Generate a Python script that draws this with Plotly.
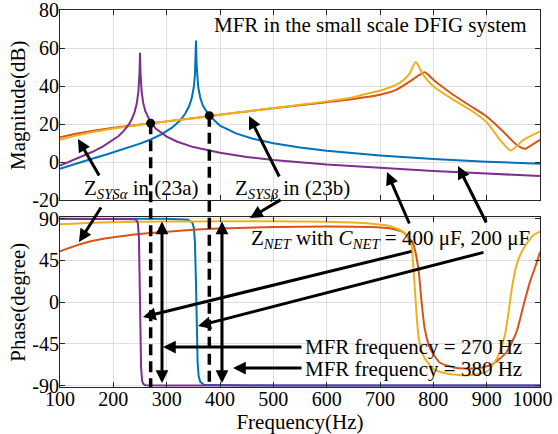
import plotly.graph_objects as go

# ---------------- data ----------------
# Magnitude (dB)
blue_f = [100, 130, 160, 190, 220, 250, 270, 290, 310, 325, 335, 342, 347, 351, 353, 354, 355, 356, 357, 359, 363, 368, 380, 400, 430, 460, 500, 550, 600, 700, 800, 900, 1000]
blue_db = [-3.4, -0.6, 1.9, 4.4, 6.9, 9.8, 12.0, 14.7, 18.2, 21.9, 25.6, 29.4, 33.7, 39.8, 45.8, 52.0, 64.0, 52.0, 45.9, 39.9, 33.9, 29.7, 24.5, 19.3, 15.2, 12.5, 10.0, 7.8, 6.1, 3.6, 1.7, 0.3, -0.7]

orange_f = [100, 130, 160, 200, 250, 300, 350, 400, 450, 500, 550, 600, 650, 700, 730, 756, 770, 784, 800, 820, 837, 869, 900, 931, 956, 972, 985, 1000]
orange_db = [13.2, 15.0, 16.5, 18.2, 19.8, 21.5, 23.2, 25.0, 26.7, 28.4, 30.0, 31.6, 33.3, 35.5, 38.0, 42.5, 45.2, 47.3, 43.4, 39.0, 35.5, 29.7, 24.1, 16.2, 9.2, 7.1, 9.2, 11.8]

yellow_f = [100, 130, 160, 200, 250, 300, 350, 400, 450, 500, 550, 600, 650, 681, 700, 737, 755, 767, 781, 800, 837, 869, 900, 925, 945, 969, 1000]
yellow_db = [11.8, 14.0, 15.8, 17.8, 19.7, 21.5, 23.2, 25.0, 26.7, 28.5, 30.2, 32.0, 34.2, 36.4, 37.6, 41.7, 46.5, 52.7, 46.0, 39.9, 32.9, 27.6, 21.0, 11.8, 6.2, 11.8, 16.2]

purple_f = [100, 120, 140, 160, 180, 200, 210, 220, 230, 235, 240, 244, 247, 249, 250, 251, 253, 256, 260, 270, 280, 300, 320, 350, 400, 450, 500, 600, 700, 800, 900, 1000]
purple_db = [-1.7, 0.6, 3.0, 5.4, 8.2, 11.7, 13.8, 16.6, 20.3, 22.9, 26.5, 31.0, 37.1, 46.7, 57.5, 46.7, 37.2, 31.2, 26.8, 20.9, 17.6, 13.5, 10.8, 8.0, 5.0, 2.8, 1.2, -1.2, -3.0, -4.5, -5.9, -7.2]

# Phase (degree)
blue_ph_f = [100, 300, 340, 348, 351, 353, 355, 356, 358, 360, 363, 370, 500, 1000]
blue_ph = [90, 90, 89, 86, 80, 65, 20, -20, -65, -80, -86, -89, -90, -90]

orange_ph_f = [100, 130, 160, 200, 250, 300, 350, 400, 500, 600, 680, 720, 745, 762, 772, 778, 784, 794, 812, 844, 887, 912, 937, 956, 969, 981, 994, 1000]
orange_ph = [55, 61, 66, 70, 73.5, 76, 78, 79.5, 81, 81.5, 81, 79.5, 75, 63, 36, 0, -29, -50, -65, -71, -71, -66.5, -54, -32, -3.6, 21.6, 43, 54]

yellow_ph_f = [100, 150, 200, 300, 400, 500, 600, 680, 720, 745, 759, 762, 767, 772, 781, 800, 825, 862, 900, 919, 934, 941, 947, 956, 969, 987, 1000]
yellow_ph = [84, 85.5, 86.2, 87, 87.2, 87.2, 86.8, 85, 82, 75, 61, 43, 0, -36, -57.5, -72, -77, -79, -75, -61, -36, -11, 14, 40, 58, 72, 76]

purple_ph_f = [100, 200, 240, 244, 246, 248, 249.5, 250.5, 252, 254, 256, 260, 300, 1000]
purple_ph = [90, 90, 89.5, 88, 85, 70, 20, -20, -70, -85, -88, -89.5, -90, -90]

# MFR points
mfr_f = [270, 380]
mfr_db = [20.5, 24.5]

# ticks
x_ticks = [100, 200, 300, 400, 500, 600, 700, 800, 900, 1000]
x_ticktext = ["100", "200", "300", "400", "500", "600", "700", "800", "900", "1000&nbsp;&nbsp;&nbsp;"]
mag_ticks = [-20, 0, 20, 40, 60, 80]
mag_ticktext = ["-20", "0", "20", "40", "60", "80"]
ph_ticks = [-90, -45, 0, 45, 90]
ph_ticktext = ["-90", "-45", "0", "45", "90"]

# ---------------- layout constants ----------------
FONT = "Liberation Serif, Times New Roman, serif"
W, H = 558, 434
ML, MR, MT, MB = 60, 18, 10, 47
PW = W - ML - MR
PH = H - MT - MB
TOP_DOM = [0.495, 1.0]
BOT_DOM = [0.0, 0.45]
MAG_RANGE = [-20, 80]
PH_RANGE = [-91.5, 91.5]

BLUE = "#0072BD"
ORANGE = "#D95319"
YELLOW = "#EDB120"
PURPLE = "#7E2F8E"
GRID = "#e0e0e0"
AXC = "#262626"


def pxx(xp):
    return (xp - ML) / PW


def pxy(yp):
    return (H - MB - yp) / PH


def mag_paper(v):
    return TOP_DOM[0] + (v - MAG_RANGE[0]) / (MAG_RANGE[1] - MAG_RANGE[0]) * (TOP_DOM[1] - TOP_DOM[0])


def ph_paper(v):
    return BOT_DOM[0] + (v - PH_RANGE[0]) / (PH_RANGE[1] - PH_RANGE[0]) * (BOT_DOM[1] - BOT_DOM[0])


fig = go.Figure()

# magnitude traces (MATLAB order: blue, orange, yellow, purple)
fig.add_trace(go.Scatter(x=blue_f, y=blue_db, mode="lines", line=dict(color=BLUE, width=2), xaxis="x", yaxis="y"))
fig.add_trace(go.Scatter(x=orange_f, y=orange_db, mode="lines", line=dict(color=ORANGE, width=2, shape="spline", smoothing=0.6), xaxis="x", yaxis="y"))
fig.add_trace(go.Scatter(x=yellow_f, y=yellow_db, mode="lines", line=dict(color=YELLOW, width=2, shape="spline", smoothing=0.6), xaxis="x", yaxis="y"))
fig.add_trace(go.Scatter(x=purple_f, y=purple_db, mode="lines", line=dict(color=PURPLE, width=2), xaxis="x", yaxis="y"))
fig.add_trace(go.Scatter(x=mfr_f, y=mfr_db, mode="markers", marker=dict(color="black", size=9), xaxis="x", yaxis="y"))

# phase traces
fig.add_trace(go.Scatter(x=blue_ph_f, y=blue_ph, mode="lines", line=dict(color=BLUE, width=2), xaxis="x2", yaxis="y2"))
fig.add_trace(go.Scatter(x=orange_ph_f, y=orange_ph, mode="lines", line=dict(color=ORANGE, width=2, shape="spline", smoothing=0.6), xaxis="x2", yaxis="y2"))
fig.add_trace(go.Scatter(x=yellow_ph_f, y=yellow_ph, mode="lines", line=dict(color=YELLOW, width=2, shape="spline", smoothing=0.6), xaxis="x2", yaxis="y2"))
fig.add_trace(go.Scatter(x=purple_ph_f, y=purple_ph, mode="lines", line=dict(color=PURPLE, width=2), xaxis="x2", yaxis="y2"))

axis_common = dict(
    showgrid=True, gridcolor=GRID, gridwidth=1,
    showline=True, linecolor=AXC, linewidth=1, mirror="ticks",
    ticks="inside", ticklen=5, tickcolor=AXC,
    tickfont=dict(family=FONT, size=20, color="black"),
    zeroline=False, automargin=False, ticklabeloverflow="allow",
)

fig.update_layout(
    template="none",
    width=W, height=H, autosize=False,
    margin=dict(l=ML, r=MR, t=MT, b=MB, pad=0),
    paper_bgcolor="white", plot_bgcolor="white",
    showlegend=False,
    font=dict(family=FONT, size=21, color="black"),
    xaxis=dict(domain=[0, 1], anchor="y", range=[100, 1000], tickvals=x_ticks, ticktext=x_ticktext,
               showticklabels=False, **axis_common),
    xaxis2=dict(domain=[0, 1], anchor="y2", range=[100, 1000], tickvals=x_ticks, ticktext=x_ticktext,
                ticklabelstandoff=-6,
                title=dict(text="Frequency(Hz)", font=dict(family=FONT, size=21), standoff=0), **axis_common),
    yaxis=dict(domain=TOP_DOM, anchor="x", range=MAG_RANGE, tickvals=mag_ticks, ticktext=mag_ticktext,
               ticklabelstandoff=-4,
               title=dict(text="Magnitude(dB)", font=dict(family=FONT, size=21), standoff=0), **axis_common),
    yaxis2=dict(domain=BOT_DOM, anchor="x2", range=PH_RANGE, tickvals=ph_ticks, ticktext=ph_ticktext,
                ticklabelstandoff=-4,
                title=dict(text="Phase(degree)", font=dict(family=FONT, size=21), standoff=0), **axis_common),
)

# dashed MFR lines
shapes = []
for f, m in zip(mfr_f, mfr_db):
    shapes.append(dict(type="line", xref="x", yref="paper", x0=f, x1=f,
                       y0=mag_paper(m), y1=ph_paper(PH_RANGE[0]),
                       line=dict(color="black", width=3.5, dash="11px,6px"), layer="above"))
fig.update_layout(shapes=shapes)

annotations = []


def arrow(head, tail, both=False):
    a = dict(x=pxx(head[0]), y=pxy(head[1]), xref="paper", yref="paper",
             ax=tail[0] - head[0], ay=tail[1] - head[1], axref="pixel", ayref="pixel",
             text="", showarrow=True, arrowhead=2, arrowsize=0.85, arrowwidth=3,
             arrowcolor="black", standoff=0, startstandoff=0)
    if both:
        a.update(arrowside="end+start", startarrowhead=2, startarrowsize=0.85)
    annotations.append(a)


def label(text, xc, yc, anchor="center"):
    annotations.append(dict(x=pxx(xc), y=pxy(yc), xref="paper", yref="paper", text=text,
                            showarrow=False, xanchor=anchor, yanchor="middle",
                            font=dict(family=FONT, size=21, color="black")))


arrow((78, 139), (100, 177))
arrow((79, 242), (102, 206))
arrow((249, 116), (280, 178))
arrow((250, 218), (282, 199))
arrow((387, 172), (410, 225))
arrow((458, 166), (487, 224))
arrow((143, 317), (413, 251))
arrow((198, 326), (485, 252))
arrow((162, 383), (162, 220), both=True)
arrow((222, 383), (222, 220), both=True)
arrow((163, 347), (303, 347))
arrow((233, 368), (303, 368))

label("MFR in the small scale DFIG system", 370, 25)
label("Z<sub><i>SYSα</i></sub> in (23a)", 141, 189)
label("Z<sub><i>SYSβ</i></sub> in (23b)", 292, 189)
label("Z<sub><i>NET</i></sub> with <i>C</i><sub><i>NET</i></sub> = 400 μF, 200 μF", 390, 239)
label("MFR frequency = 270 Hz", 413, 347)
label("MFR frequency = 380 Hz", 413, 369)

fig.update_layout(annotations=annotations)

fig.write_html("out.html", config={"displayModeBar": False},
               post_script="document.body.style.margin='0';document.body.style.padding='0';")
